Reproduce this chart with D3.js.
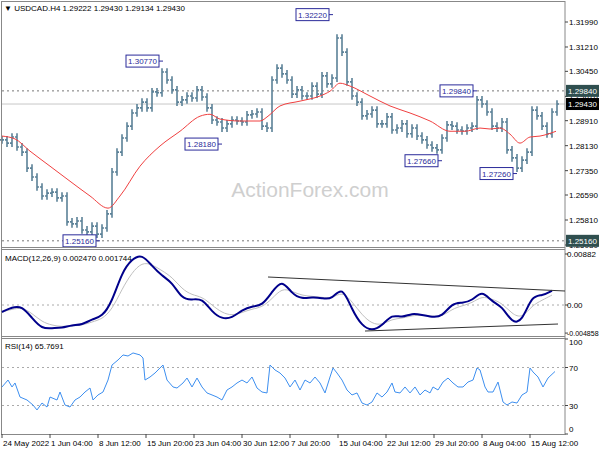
<!DOCTYPE html>
<html><head><meta charset="utf-8">
<script src="https://cdn.jsdelivr.net/npm/d3@7"></script>
<style>body{margin:0;background:#fff}svg{display:block;font-family:"Liberation Sans",Arial,sans-serif}</style>
</head><body><svg id="c" width="600" height="450"></svg>
<script>
const closes=[1.2831,1.2821,1.2840,1.2809,1.2793,1.2743,1.2715,1.2684,1.2656,1.2665,1.2668,1.2650,1.2656,1.2575,1.2569,1.2578,1.2550,1.2544,1.2562,1.2537,1.2556,1.2600,1.2731,1.2793,1.2837,1.2874,1.2915,1.2931,1.2949,1.2931,1.2981,1.2978,1.3043,1.3018,1.2987,1.2949,1.2956,1.2968,1.2962,1.2987,1.2965,1.2931,1.2893,1.2887,1.2868,1.2881,1.2893,1.2890,1.2887,1.2909,1.2912,1.2918,1.2874,1.2868,1.3018,1.3055,1.3037,1.3018,1.2974,1.2987,1.2968,1.2968,1.2999,1.2974,1.3031,1.3006,1.3024,1.3149,1.3105,1.3012,1.2968,1.2949,1.2906,1.2912,1.2924,1.2881,1.2881,1.2903,1.2862,1.2868,1.2881,1.2850,1.2868,1.2843,1.2831,1.2815,1.2806,1.2800,1.2837,1.2878,1.2874,1.2862,1.2859,1.2868,1.2874,1.2956,1.2943,1.2918,1.2874,1.2868,1.2887,1.2800,1.2775,1.2743,1.2768,1.2793,1.2924,1.2906,1.2874,1.2850,1.2918,1.2943];
const maIdx=[0,2.6,5.6,9.6,13.6,17.6,21.2,23.6,27.6,31.6,35.6,39.6,41.6,43.6,47.6,51.6,53.2,55.6,59.6,63.6,65.6,67.6,69.6,73.6,77.6,81.6,85.6,89.6,92.6,95.6,97.6,99.6,101.6,103.6,105.6,107.6,110.8];
const maVal=[1.2843,1.2834,1.2796,1.2749,1.2702,1.2656,1.2618,1.2656,1.2749,1.2812,1.2858,1.2905,1.2911,1.2896,1.2890,1.2890,1.2905,1.2937,1.2952,1.2968,1.2983,1.3008,1.2999,1.2968,1.2937,1.2915,1.2890,1.2858,1.2858,1.2868,1.2865,1.2868,1.2849,1.2821,1.2840,1.2843,1.2858];
const extIdx=[66.2,32.2,44,19.6,88,95,103];
const extVal=[1.3222,1.3077,1.2818,1.2516,1.2766,1.2984,1.2726];
const priceTicks=[1.31990,1.31210,1.30450,1.29670,1.28910,1.28130,1.27350,1.26590,1.25810,1.25030];
const macd=[-0.00121,-0.00035,-0.00017,-0.00225,-0.00415,-0.00398,-0.00398,-0.00346,-0.00346,-0.00242,-0.00208,0.00052,0.00571,0.00796,0.00882,0.00675,0.00502,0.00398,0.00104,0.00087,0.00121,-0.00121,-0.00242,-0.00225,-0.00087,-0.00017,-0.00017,0.00225,0.00450,0.00190,0.00104,0.00138,0.00121,0.00087,0.00346,-0.00087,-0.00363,-0.00450,-0.00363,-0.00156,-0.00225,-0.00138,-0.00173,-0.00208,-0.00208,0.00035,0.00035,0.00069,0.00260,0.00052,-0.00017,-0.00311,-0.00294,0.00173,0.00156,0.00247];
const macdTrendA=[[53.2,0.00484],[112.6,0.00242]];
const macdTrendB=[[72.6,-0.00450],[111.2,-0.00329]];
const rsiIdx=[0,1.2,2,2.6,3.6,5,6.2,7,8,9,9.6,11,11.6,12.6,13.6,14.6,15.6,16.6,17.6,18.2,19.2,20.2,21.2,22,23.2,24.2,25.2,26.2,27.6,28.2,28.6,29.6,30.6,31.6,32.2,33,34.2,35,36.2,37,38,39,40,41,42,43,44,45,46,47,48,49,50,51,52,53,53.6,54.6,55.6,56.6,57.6,58.6,59.6,60.6,61.6,62.6,63.6,64.6,65.6,66.2,67,68,69,70,71,72,73,74,75,76,77,78,78.6,79.6,80.6,81.6,82.6,83.6,84.6,85.6,86.2,87.2,88.2,89.2,90.2,91.2,92.2,93.2,94.2,95,95.6,96.6,97.2,98.2,99.2,100.2,101,102,103,104,105,105.6,106.2,107.2,108.2,109.2,110.6];
const rsiVal=[49.5,56.8,49.5,53.7,38.9,35.8,30.5,25.3,32.6,28.4,38.9,35.8,44.2,30.5,28.4,35.8,38.9,44.2,48.4,35.8,41.1,44.2,56.8,72.6,77.9,83.2,82.1,85.3,83.2,80,56.8,60,64.2,69.5,72.6,56.8,49.5,48.4,53.7,58.9,49.5,58.9,49.5,43.2,41.1,38.9,35.8,46.3,49.5,53.7,56.8,53.7,60,48.4,44.2,43.2,72.6,67.4,64.2,58.9,49.5,56.8,46.3,56.8,53.7,60,53.7,43.2,60,69.5,64.2,56.8,46.3,41.1,43.2,32.6,30.5,33.7,43.2,38.9,44.2,53.7,44.2,43.2,49.5,43.2,49.5,41.1,46.3,43.2,49.5,46.3,54.7,58.9,53.7,49.5,49.5,54.7,56.8,69.5,67.4,49.5,44.2,44.2,54.7,33.7,30.5,33.7,32.6,41.1,44.2,69.5,65.3,60,49.5,58.9,65.8];
const timeTickIdx=[0,9.6,19.2,28.8,38.4,48,57.6,67.2,76.8,86.4,96,105.6];
const timeLabels=["24 May 2022","1 Jun 04:00","8 Jun 12:00","15 Jun 20:00","23 Jun 04:00","30 Jun 12:00","7 Jul 20:00","15 Jul 04:00","22 Jul 12:00","29 Jul 20:00","8 Aug 04:00","15 Aug 12:00"];

const svg=d3.select("#c");
const L=2,R=565;
const x=d3.scaleLinear().domain([0,111]).range([2,557]);
const y=d3.scaleLinear().domain([1.25810,1.31990]).range([220,22]);
const ym=d3.scaleLinear().domain([0,0.00882]).range([305,254]);
const yr=d3.scaleLinear().domain([0,100]).range([434,339]);
const fs=8, tc="#000";

svg.append("text").attr("x",310).attr("y",197).attr("text-anchor","middle").attr("font-size",21).attr("fill","#cfcfcf").text("ActionForex.com");

[1.2984,1.2516].forEach(v=>svg.append("line").attr("x1",L).attr("x2",R).attr("y1",y(v)).attr("y2",y(v)).attr("stroke","#777").attr("stroke-dasharray","2,3"));
svg.append("line").attr("x1",L).attr("x2",R).attr("y1",y(closes[closes.length-1])).attr("y2",y(closes[closes.length-1])).attr("stroke","#c8c8c8");

const bc="#5b8197";
const g=svg.append("g").attr("stroke",bc).attr("stroke-width",1.6);
closes.forEach((c,i)=>{
  const o=i?closes[i-1]:c;
  const hi=Math.max(o,c)+0.0012, lo=Math.min(o,c)-0.0012;
  const xc=x(i);
  g.append("line").attr("x1",xc).attr("x2",xc).attr("y1",y(hi)).attr("y2",y(lo));
  g.append("line").attr("x1",xc-2).attr("x2",xc).attr("y1",y(o)).attr("y2",y(o));
  g.append("line").attr("x1",xc).attr("x2",xc+2).attr("y1",y(c)).attr("y2",y(c));
});
svg.append("path").datum(maIdx.map((d,i)=>[d,maVal[i]])).attr("fill","none").attr("stroke","#f04040").attr("stroke-width",1)
  .attr("d",d3.line().x(d=>x(d[0])).y(d=>y(d[1])).curve(d3.curveMonotoneX));

extIdx.forEach((d,i)=>{
  const px=x(d), py=y(extVal[i]), t=extVal[i].toFixed(5);
  const w=33, bx=px-4-w;
  svg.append("line").attr("x1",bx+w).attr("x2",px).attr("y1",py).attr("y2",py).attr("stroke","#2b2b9a");
  svg.append("rect").attr("x",bx).attr("y",py-6).attr("width",w).attr("height",12).attr("fill","#fff").attr("stroke","#2b2b9a");
  svg.append("text").attr("x",bx+w/2).attr("y",py+3).attr("text-anchor","middle").attr("font-size",fs).attr("fill","#2b2b9a").text(t);
});

svg.append("text").attr("x",4).attr("y",11).attr("font-size",fs).attr("fill",tc).text("▼ USDCAD.H4  1.29222 1.29430 1.29134 1.29430");

svg.append("rect").attr("x",1.5).attr("y",1.5).attr("width",R-1.5).attr("height",433).attr("fill","none").attr("stroke","#888");
[247.5,249.5,336.5,338.5].forEach(v=>svg.append("line").attr("x1",1.5).attr("x2",R).attr("y1",v).attr("y2",v).attr("stroke","#888"));

priceTicks.forEach(v=>{
  svg.append("line").attr("x1",R).attr("x2",R+3).attr("y1",y(v)).attr("y2",y(v)).attr("stroke","#444");
  svg.append("text").attr("x",569).attr("y",y(v)+3).attr("font-size",fs).attr("fill",tc).text(v.toFixed(5));
});
function tag(v,fill){
  svg.append("rect").attr("x",566).attr("y",y(v)-6).attr("width",33).attr("height",12).attr("fill",fill);
  svg.append("text").attr("x",568).attr("y",y(v)+3).attr("font-size",fs).attr("fill","#fff").text(v.toFixed(5));
}
tag(1.2984,"#2f4f4f"); tag(closes[closes.length-1],"#000"); tag(1.2516,"#2f4f4f");

svg.append("text").attr("x",5).attr("y",261).attr("font-size",fs).attr("fill",tc).text("MACD(12,26,9) 0.002470 0.001744");
svg.append("line").attr("x1",L).attr("x2",R).attr("y1",ym(0)).attr("y2",ym(0)).attr("stroke","#aaa").attr("stroke-dasharray","2,3");
const sig=[]; macd.forEach((v,i)=>sig.push(i?sig[i-1]+0.55*(v-sig[i-1]):v));
const mline=d3.line().x((d,i)=>x(i*2)).y(d=>ym(d)).curve(d3.curveBasis);
svg.append("path").datum(sig).attr("fill","none").attr("stroke","#c0c0c0").attr("stroke-width",1).attr("d",mline);
svg.append("path").datum(macd).attr("fill","none").attr("stroke","#00008b").attr("stroke-width",2).attr("d",mline);
[macdTrendA,macdTrendB].forEach(t=>svg.append("line").attr("x1",x(t[0][0])).attr("x2",Math.min(R,x(t[1][0]))).attr("y1",ym(t[0][1])).attr("y2",ym(t[1][1])).attr("stroke","#333"));
[[0.00882,"0.00882"],[0,"0.00"],[-0.004858,"-0.004858"]].forEach(d=>{
  svg.append("line").attr("x1",R).attr("x2",R+3).attr("y1",ym(d[0])).attr("y2",ym(d[0])).attr("stroke","#444");
  svg.append("text").attr("x",567).attr("y",ym(d[0])+3).attr("font-size",d[1].length>8?7:fs).attr("fill",tc).text(d[1]);
});

svg.append("text").attr("x",5).attr("y",349).attr("font-size",fs).attr("fill",tc).text("RSI(14) 65.7691");
[70,30].forEach(v=>svg.append("line").attr("x1",L).attr("x2",R).attr("y1",yr(v)).attr("y2",yr(v)).attr("stroke","#aaa").attr("stroke-dasharray","2,3"));
svg.append("path").datum(rsiIdx.map((d,i)=>[d,rsiVal[i]])).attr("fill","none").attr("stroke","#3d8ff0").attr("stroke-width",1)
  .attr("d",d3.line().x(d=>x(d[0])).y(d=>yr(d[1])));
[[100,6],[70,3],[30,3],[0,-2]].forEach(d=>{
  svg.append("line").attr("x1",R).attr("x2",R+3).attr("y1",yr(d[0])).attr("y2",yr(d[0])).attr("stroke","#444");
  svg.append("text").attr("x",569).attr("y",yr(d[0])+d[1]).attr("font-size",fs).attr("fill",tc).text(d[0]);
});

timeTickIdx.forEach((d,i)=>{
  const px=x(d);
  svg.append("line").attr("x1",px).attr("x2",px).attr("y1",434).attr("y2",438).attr("stroke","#444");
  svg.append("text").attr("x",px+1).attr("y",446).attr("font-size",fs).attr("fill",tc).text(timeLabels[i]);
});
</script></body></html>
